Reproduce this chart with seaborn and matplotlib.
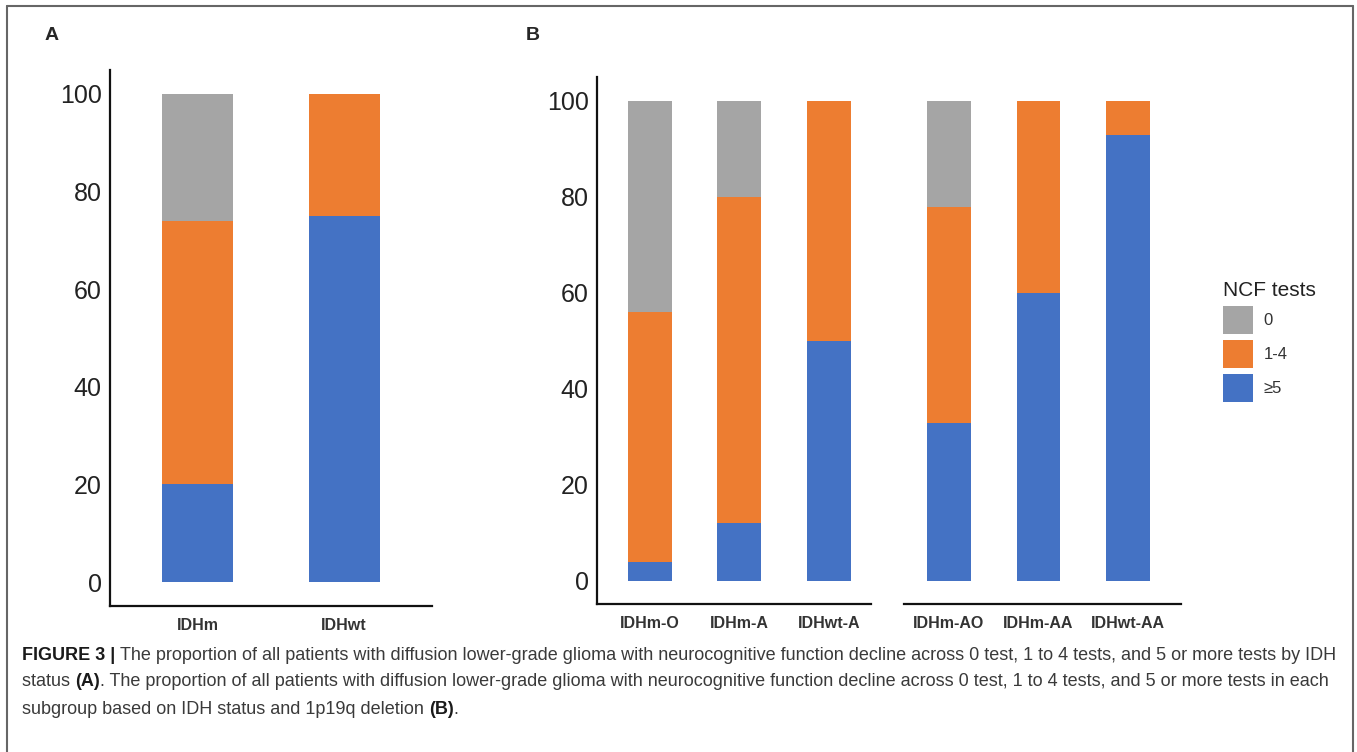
import matplotlib
matplotlib.use("Agg")
import matplotlib.pyplot as plt
from matplotlib.patches import Patch
import numpy as np
import pandas as pd
import seaborn as sns

# values (percent of patients)
groups_a = ["IDHm", "IDHwt"]
a_ge5 = [20, 75]
a_1to4 = [54, 25]
a_zero = [26, 0]

groups_b1 = ["IDHm-O", "IDHm-A", "IDHwt-A"]
b1_ge5 = [4, 12, 50]
b1_1to4 = [52, 68, 50]
b1_zero = [44, 20, 0]

groups_b2 = ["IDHm-AO", "IDHm-AA", "IDHwt-AA"]
b2_ge5 = [33, 60, 93]
b2_1to4 = [45, 40, 7]
b2_zero = [22, 0, 0]

legend_labels = ["0", "1-4", "\u22655"]
colors = ["#A5A5A5", "#ED7D31", "#4472C4"]
yticks = [0, 20, 40, 60, 80, 100]

sns.set_style("white")
plt.rcParams["font.family"] = ["Liberation Sans", "DejaVu Sans"]

W, H = 1357, 752
fig = plt.figure(figsize=(W / 100, H / 100), dpi=100)


def px_axes(left, right, top, bottom):
    return fig.add_axes([left / W, 1 - bottom / H, (right - left) / W, (bottom - top) / H])


def stacked(ax, groups, ge5, mid, zero, width):
    ge5 = np.array(ge5)
    mid = np.array(mid)
    zero = np.array(zero)
    df = pd.DataFrame({"group": groups, "total": ge5 + mid + zero,
                       "mid": ge5 + mid, "low": ge5})
    for col, c in zip(["total", "mid", "low"], colors):
        sns.barplot(data=df, x="group", y=col, color=c, width=width,
                    saturation=1, linewidth=0, ax=ax)
    ax.set_xlabel("")
    ax.set_ylabel("")
    ax.tick_params(length=0)
    for s in ["top", "right"]:
        ax.spines[s].set_visible(False)
    for s in ["left", "bottom"]:
        ax.spines[s].set_linewidth(1.6)
        ax.spines[s].set_color("#111111")
    ax.set_yticks(yticks)
    for lab in ax.get_xticklabels():
        lab.set_fontsize(11.5)
        lab.set_fontweight("bold")
        lab.set_color("#333333")
    ax.tick_params(axis="x", pad=9)
    ax.tick_params(axis="y", pad=6, labelsize=18, labelcolor="#222222")


# panel A
ax_a = px_axes(110, 432, 70, 606)
stacked(ax_a, groups_a, a_ge5, a_1to4, a_zero, 0.485)
ax_a.set_xlim(-0.597, 1.60)
ax_a.set_ylim(-4.9, 104.9)

# panel B, two groups with a split x axis
ax_b1 = px_axes(597, 871, 77, 604)
stacked(ax_b1, groups_b1, b1_ge5, b1_1to4, b1_zero, 0.49)
ax_b1.set_xlim(-0.59, 2.47)
ax_b1.set_ylim(-4.8, 105)

ax_b2 = px_axes(904, 1181, 77, 604)
stacked(ax_b2, groups_b2, b2_ge5, b2_1to4, b2_zero, 0.49)
ax_b2.set_xlim(-0.5, 2.59)
ax_b2.set_ylim(-4.8, 105)
ax_b2.spines["left"].set_visible(False)
ax_b2.set_yticklabels([])
for ax in (ax_a, ax_b1, ax_b2):
    ax.patch.set_alpha(0)

fig.text(45 / W, 1 - 36 / H, "A", fontsize=14, fontweight="bold", va="center")
fig.text(526 / W, 1 - 36 / H, "B", fontsize=14, fontweight="bold", va="center")

handles = [Patch(facecolor=c, edgecolor="none") for c in colors]
leg = fig.legend(handles, legend_labels, title="NCF tests", loc="upper left",
                 bbox_to_anchor=(1215 / W, 1 - 273 / H), frameon=False,
                 borderpad=0, fontsize=12, title_fontsize=15,
                 handlelength=1.8, handleheight=2.2, labelspacing=0.36,
                 handletextpad=0.6, alignment="left")
for t in leg.get_texts():
    t.set_color("#333333")
leg.get_title().set_color("#222222")

# frame around the figure (open at the bottom)
frame_c = "#666666"
fig.add_artist(plt.Line2D([7 / W, 7 / W], [0, 1 - 6 / H], color=frame_c, lw=1.5))
fig.add_artist(plt.Line2D([7 / W, 1353 / W], [1 - 6 / H, 1 - 6 / H], color=frame_c, lw=1.5))
fig.add_artist(plt.Line2D([1353 / W, 1353 / W], [0, 1 - 6 / H], color=frame_c, lw=1.5))

# caption with bold parts
renderer = fig.canvas.get_renderer()


def rich_line(x, y, pieces, size=13.0):
    for txt, weight in pieces:
        t = fig.text(x / W, 1 - y / H, txt, fontsize=size, fontweight=weight,
                     va="center", ha="left",
                     color="#1a1a1a" if weight == "bold" else "#3a3a3a")
        x += t.get_window_extent(renderer=renderer).width


rich_line(22, 655, [("FIGURE 3 | ", "bold"),
                    ("The proportion of all patients with diffusion lower-grade glioma with "
                     "neurocognitive function decline across 0 test, 1 to 4 tests, and 5 or "
                     "more tests by IDH", "normal")])
rich_line(22, 682, [("status ", "normal"), ("(A)", "bold"),
                    (". The proportion of all patients with diffusion lower-grade glioma with "
                     "neurocognitive function decline across 0 test, 1 to 4 tests, and 5 or "
                     "more tests in each", "normal")])
rich_line(22, 709, [("subgroup based on IDH status and 1p19q deletion ", "normal"),
                    ("(B)", "bold"), (".", "normal")])

fig.savefig("out.png", dpi=100)
